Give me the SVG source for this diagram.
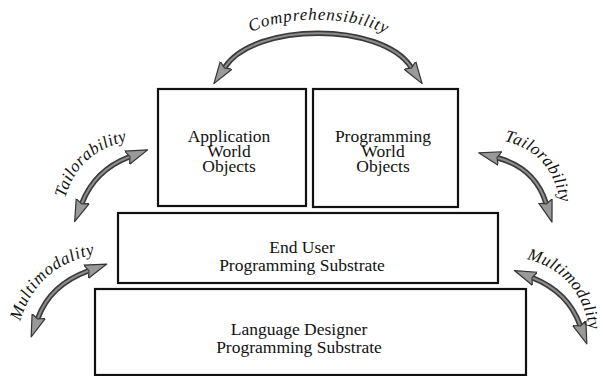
<svg xmlns="http://www.w3.org/2000/svg" width="603" height="376" viewBox="0 0 603 376">
<style>
.box{fill:#fff;stroke:#111;stroke-width:2.2}
.t{font-family:"Liberation Serif","Times New Roman",serif;font-size:17.5px;fill:#111;text-anchor:middle}
.lab{font-family:"Liberation Serif","Times New Roman",serif;font-style:italic;font-size:17px;fill:#111}
.bodyD{fill:none;stroke:#3a3a3a;stroke-width:5.5;stroke-linecap:butt}
.bodyL{fill:none;stroke:#8c8c8c;stroke-width:2.2;marker-start:url(#ah);marker-end:url(#ah)}
</style>
<defs>
<marker id="ah" markerUnits="userSpaceOnUse" viewBox="0 -8 24 16" refX="2" refY="0" markerWidth="24" markerHeight="16" orient="auto-start-reverse">
<path d="M0,-7 L22,0 L0,7 L3,0 z" fill="#999" stroke="#333" stroke-width="1.2" stroke-linejoin="round"/>
</marker>
<path id="pComp" d="M245,36 C275,14 360,14 392,38"/>
<path id="pTL" d="M64,203 Q76,150 132,140"/>
<path id="pTR" d="M500,140 Q553,150 561,207"/>
<path id="pML" d="M20,322 Q36,266 96,254"/>
<path id="pMR" d="M525,259 Q579,270 590,332"/>
</defs>
<g id="language-designer">
<rect class="box" x="95" y="289" width="431" height="86"/>
<text class="t" x="299" y="335">Language Designer</text>
<text class="t" x="299" y="353">Programming Substrate</text>
</g>
<g id="end-user">
<rect class="box" x="118" y="213" width="380" height="70"/>
<text class="t" x="302" y="253">End User</text>
<text class="t" x="302" y="271">Programming Substrate</text>
</g>
<g id="application-world">
<rect class="box" x="158" y="89" width="148" height="117"/>
<text class="t" x="229" y="142">Application</text>
<text class="t" x="229" y="157">World</text>
<text class="t" x="229" y="172">Objects</text>
</g>
<g id="programming-world">
<rect class="box" x="313" y="89" width="145" height="118"/>
<text class="t" x="383" y="142">Programming</text>
<text class="t" x="383" y="157">World</text>
<text class="t" x="383" y="172">Objects</text>
</g>
<g id="connectors">
<path class="bodyD" d="M225,67 C255,22 381,22 411,67"/>
<path class="bodyL" d="M225,67 C255,22 381,22 411,67"/>
<path class="bodyD" d="M129,157 Q95,170 82,203"/>
<path class="bodyL" d="M129,157 Q95,170 82,203"/>
<path class="bodyD" d="M498,158 Q535,168 546,203"/>
<path class="bodyL" d="M498,158 Q535,168 546,203"/>
<path class="bodyD" d="M88,271 Q50,285 38,318"/>
<path class="bodyL" d="M88,271 Q50,285 38,318"/>
<path class="bodyD" d="M533,278 Q568,292 580,325"/>
<path class="bodyL" d="M533,278 Q568,292 580,325"/>
</g>
<g id="labels">
<text class="lab" letter-spacing="0.8"><textPath href="#pComp" startOffset="50%" text-anchor="middle">Comprehensibility</textPath></text>
<text class="lab" letter-spacing="0.4"><textPath href="#pTL" startOffset="50%" text-anchor="middle">Tailorability</textPath></text>
<text class="lab" letter-spacing="0.4"><textPath href="#pTR" startOffset="50%" text-anchor="middle">Tailorability</textPath></text>
<text class="lab" letter-spacing="0.8"><textPath href="#pML" startOffset="50%" text-anchor="middle">Multimodality</textPath></text>
<text class="lab" letter-spacing="0.4"><textPath href="#pMR" startOffset="50%" text-anchor="middle">Multimodality</textPath></text>
</g>
</svg>
